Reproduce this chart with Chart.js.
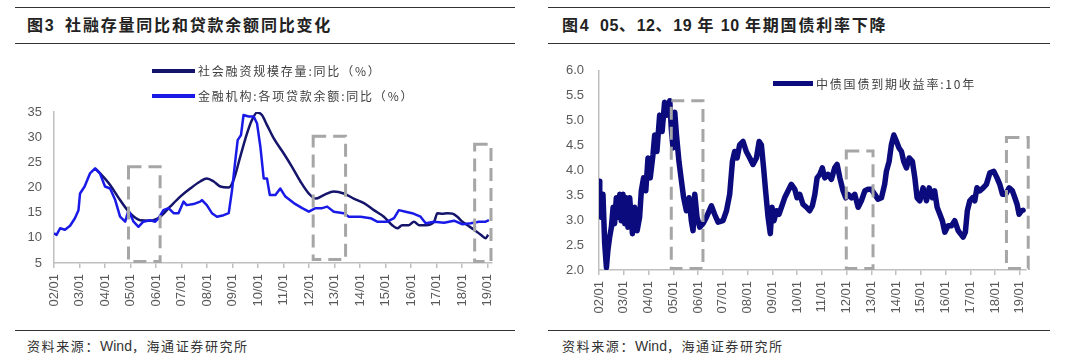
<!DOCTYPE html>
<html>
<head>
    <title>社融存量与国债利率</title>
    <script src="https://cdn.jsdelivr.net/npm/chart.js@4.4.1/dist/chart.umd.min.js"></script>
    <style>
        body {
            margin: 0;
            width: 1080px;
            height: 364px;
            background: #fff;
            position: relative;
            overflow: hidden;
            font-family: "Noto Sans CJK SC", "Liberation Sans", sans-serif;
        }
        .rule { position: absolute; height: 0; border-top: 1.5px solid #333; }
        .title {
            position: absolute; top: 12px; font-size: 16px; font-weight: 700;
            color: #222; letter-spacing: 1.8px; white-space: pre;
        }
        .title b { font-family: "Liberation Sans", Arial, sans-serif; letter-spacing: 0.5px; }
        .source {
            position: absolute; top: 336px; font-size: 13px; color: #333;
            letter-spacing: 1.6px; white-space: pre;
        }
        .source span { font-family: "Liberation Sans", Arial, sans-serif; font-size: 14px; letter-spacing: 0; }
        .box { position: absolute; top: 48px; height: 280px; }
        .legend {
            position: absolute; font-size: 12px; color: #404040; letter-spacing: 1.8px;
            white-space: nowrap; display: flex; align-items: center;
        }
        .legend i { display: inline-block; width: 43px; margin-right: 3px; }
    </style>
</head>
<body>
    <div class="rule" style="left:15px;width:500px;top:7px"></div>
    <div class="title" style="left:27px">图<b>3</b>  社融存量同比和贷款余额同比变化</div>
    <div class="rule" style="left:15px;width:500px;top:43px"></div>

    <div class="rule" style="left:548px;width:502px;top:7px"></div>
    <div class="title" style="left:562px">图<b>4</b>  <b>05</b>、<b>12</b>、<b>19</b> 年 <b>10</b> 年期国债利率下降</div>
    <div class="rule" style="left:548px;width:502px;top:43px"></div>

    <div class="box" style="left:0;width:530px"><canvas id="leftChart"></canvas></div>
    <div class="box" style="left:540px;width:540px"><canvas id="rightChart"></canvas></div>

    <div class="legend" style="left:152px;top:62px"><i style="border-top:4px solid #14146b"></i>社会融资规模存量:同比（%）</div>
    <div class="legend" style="left:152px;top:87px"><i style="border-top:4px solid #1a1ae8"></i>金融机构:各项贷款余额:同比（%）</div>
    <div class="legend" style="left:773px;top:75px"><i style="width:40px;border-top:5px solid #0b0b7e"></i>中债国债到期收益率:10年</div>

    <div class="rule" style="left:15px;width:500px;top:330px"></div>
    <div class="source" style="left:27px">资料来源：<span>Wind</span>，海通证券研究所</div>
    <div class="rule" style="left:548px;width:502px;top:330px"></div>
    <div class="source" style="left:562px">资料来源：<span>Wind</span>，海通证券研究所</div>

    <script>
        // x values are decimal years (2002.0 = 02/01)
        const tickYears = [2002, 2003, 2004, 2005, 2006, 2007, 2008, 2009, 2010, 2011, 2012, 2013, 2014, 2015, 2016, 2017, 2018, 2019];
        const tickLabels = ['02/01', '03/01', '04/01', '05/01', '06/01', '07/01', '08/01', '09/01', '10/01', '11/01', '12/01', '13/01', '14/01', '15/01', '16/01', '17/01', '18/01', '19/01'];

        // 社会融资规模存量:同比
        const tsfX = [2003.61, 2003.81, 2004.2, 2004.59, 2004.98, 2005.38, 2005.77, 2006.16, 2006.55, 2006.95, 2007.34, 2007.73, 2007.99, 2008.26, 2008.52, 2008.85, 2009.04, 2009.3, 2009.57, 2009.76, 2009.96, 2010.15, 2010.35, 2010.61, 2011.0, 2011.33, 2011.66, 2011.99, 2012.25, 2012.58, 2012.97, 2013.36, 2013.75, 2014.15, 2014.54, 2014.93, 2015.26, 2015.46, 2015.65, 2015.91, 2016.11, 2016.31, 2016.57, 2016.9, 2017.03, 2017.22, 2017.42, 2017.62, 2017.81, 2018.01, 2018.21, 2018.47, 2018.73, 2018.92, 2019.02];
        const tsfY = [23.8, 22.8, 20.5, 17.5, 14.9, 13.5, 13.4, 14.2, 16.2, 18.2, 19.8, 21.2, 21.8, 21.2, 20.2, 20.0, 21.5, 26.1, 30.8, 33.4, 34.9, 34.4, 32.4, 29.8, 26.8, 24.1, 21.2, 18.8, 17.8, 18.5, 19.2, 18.8, 17.8, 16.9, 15.5, 14.2, 12.5, 11.9, 12.5, 12.5, 13.2, 12.5, 12.5, 13.2, 14.9, 14.8, 14.9, 14.8, 14.2, 13.2, 12.5, 11.6, 10.6, 9.9, 10.6];

        // 金融机构:各项贷款余额:同比
        const loanX = [2002.0, 2002.1, 2002.24, 2002.43, 2002.63, 2002.82, 2002.96, 2003.02, 2003.2, 2003.41, 2003.61, 2003.8, 2004.0, 2004.2, 2004.4, 2004.59, 2004.79, 2004.92, 2005.12, 2005.31, 2005.5, 2005.77, 2005.97, 2006.1, 2006.29, 2006.49, 2006.69, 2006.88, 2007.08, 2007.2, 2007.47, 2007.73, 2007.8, 2007.99, 2008.19, 2008.39, 2008.65, 2008.85, 2008.98, 2009.11, 2009.2, 2009.33, 2009.43, 2009.63, 2009.83, 2009.96, 2010.09, 2010.22, 2010.35, 2010.46, 2010.68, 2010.87, 2011.07, 2011.4, 2011.73, 2011.99, 2012.25, 2012.51, 2012.71, 2012.97, 2013.36, 2013.56, 2014.02, 2014.41, 2014.67, 2015.06, 2015.33, 2015.52, 2015.78, 2016.04, 2016.37, 2016.57, 2016.9, 2017.29, 2017.68, 2018.01, 2018.34, 2018.66, 2018.92, 2019.05];
        const loanY = [10.9, 10.6, 11.9, 11.6, 12.4, 13.9, 15.5, 18.8, 20.2, 22.8, 23.8, 22.8, 20.2, 19.8, 17.5, 14.2, 13.2, 15.5, 13.2, 12.2, 13.2, 13.5, 13.2, 13.9, 15.5, 15.9, 14.9, 14.9, 17.2, 16.5, 16.7, 17.2, 17.5, 16.5, 14.9, 14.2, 14.5, 14.9, 19.5, 25.5, 29.4, 30.4, 34.4, 34.1, 34.1, 32.7, 28.1, 21.8, 21.8, 18.5, 18.5, 19.8, 18.2, 16.9, 15.9, 15.2, 15.9, 15.9, 16.2, 15.2, 14.9, 14.2, 14.2, 13.9, 13.2, 13.2, 13.9, 15.5, 15.2, 14.9, 14.2, 12.9, 13.2, 13.0, 13.4, 12.7, 12.9, 13.2, 13.2, 13.5];

        // 中债国债到期收益率:10年
        const bondX = [2002.0, 2002.03, 2002.09, 2002.16, 2002.23, 2002.3, 2002.36, 2002.43, 2002.5, 2002.57, 2002.63, 2002.7, 2002.77, 2002.84, 2002.9, 2002.97, 2003.04, 2003.1, 2003.17, 2003.24, 2003.35, 2003.44, 2003.54, 2003.64, 2003.71, 2003.8, 2003.89, 2003.98, 2004.07, 2004.18, 2004.25, 2004.34, 2004.45, 2004.55, 2004.65, 2004.75, 2004.86, 2004.92, 2004.99, 2005.06, 2005.13, 2005.23, 2005.33, 2005.42, 2005.53, 2005.64, 2005.73, 2005.8, 2005.87, 2005.96, 2006.07, 2006.2, 2006.34, 2006.54, 2006.67, 2006.81, 2007.01, 2007.15, 2007.28, 2007.39, 2007.48, 2007.58, 2007.68, 2007.82, 2007.95, 2008.09, 2008.22, 2008.36, 2008.47, 2008.56, 2008.65, 2008.73, 2008.83, 2008.92, 2008.99, 2009.07, 2009.17, 2009.27, 2009.37, 2009.5, 2009.64, 2009.77, 2009.91, 2010.0, 2010.11, 2010.24, 2010.38, 2010.51, 2010.62, 2010.72, 2010.81, 2010.92, 2011.02, 2011.12, 2011.25, 2011.39, 2011.52, 2011.62, 2011.73, 2011.86, 2011.97, 2012.06, 2012.2, 2012.33, 2012.47, 2012.6, 2012.74, 2012.87, 2013.0, 2013.14, 2013.27, 2013.41, 2013.54, 2013.61, 2013.72, 2013.81, 2013.91, 2014.02, 2014.12, 2014.22, 2014.31, 2014.42, 2014.53, 2014.66, 2014.76, 2014.85, 2014.96, 2015.09, 2015.23, 2015.34, 2015.47, 2015.56, 2015.66, 2015.77, 2015.87, 2015.97, 2016.1, 2016.24, 2016.37, 2016.51, 2016.6, 2016.71, 2016.8, 2016.88, 2016.98, 2017.09, 2017.18, 2017.27, 2017.38, 2017.52, 2017.65, 2017.79, 2017.95, 2018.08, 2018.19, 2018.3, 2018.43, 2018.57, 2018.7, 2018.8, 2018.89, 2018.97, 2019.07, 2019.13];
        const bondY = [3.78, 3.25, 3.06, 3.52, 2.53, 2.05, 2.4, 2.66, 2.86, 3.26, 2.93, 3.45, 3.06, 3.52, 2.99, 3.52, 2.93, 3.45, 2.86, 3.45, 2.73, 3.26, 2.79, 3.06, 3.59, 3.85, 3.59, 4.25, 3.85, 4.31, 4.71, 4.38, 5.11, 4.78, 5.37, 5.11, 5.40, 4.84, 4.45, 5.17, 4.71, 4.18, 3.79, 3.45, 3.19, 3.45, 2.99, 2.79, 3.52, 3.06, 2.86, 2.93, 3.06, 3.29, 3.12, 2.96, 2.99, 3.19, 3.52, 4.18, 4.38, 4.25, 4.51, 4.58, 4.38, 4.25, 4.12, 4.25, 4.58, 4.51, 4.05, 3.59, 3.06, 2.73, 3.26, 2.99, 3.19, 3.12, 3.26, 3.45, 3.59, 3.72, 3.62, 3.45, 3.52, 3.32, 3.26, 3.19, 3.29, 3.52, 3.85, 3.92, 4.05, 3.85, 3.92, 3.82, 4.05, 4.12, 3.85, 3.59, 3.45, 3.52, 3.45, 3.52, 3.26, 3.39, 3.59, 3.62, 3.62, 3.52, 3.42, 3.45, 3.72, 3.98, 4.18, 4.51, 4.71, 4.58, 4.45, 4.38, 4.18, 4.05, 4.25, 4.18, 3.85, 3.45, 3.39, 3.65, 3.39, 3.65, 3.45, 3.59, 3.26, 3.12, 2.99, 2.76, 2.89, 2.89, 2.99, 2.79, 2.73, 2.66, 2.76, 3.19, 3.39, 3.45, 3.39, 3.65, 3.59, 3.65, 3.72, 3.95, 3.98, 3.85, 3.72, 3.52, 3.52, 3.65, 3.59, 3.45, 3.32, 3.12, 3.19, 3.2];

        // dashed boxes: 05, 12, 19
        const leftBoxFrom = [2004.92, 2012.16, 2018.49];
        const leftBoxTo = [2006.16, 2013.43, 2019.13];
        const leftBoxTop = [24.1, 30.2, 28.6];
        const leftBoxBottom = [5.3, 5.7, 5.3];
        const rightBoxFrom = [2004.92, 2011.99, 2018.46];
        const rightBoxTo = [2006.2, 2013.07, 2019.34];
        const rightBoxTop = [5.40, 4.39, 4.66];
        const rightBoxBottom = [2.03, 2.03, 2.03];

        const toPoints = (xs, ys) => xs.map((x, i) => ({ x: x, y: ys[i] }));

        const boxPlugin = {
            id: 'boxes',
            afterDatasetsDraw(chart, args, opts) {
                const ctx = chart.ctx;
                const xs = chart.scales.x, ys = chart.scales.y;
                ctx.save();
                ctx.strokeStyle = '#a6a6a6';
                ctx.lineWidth = 3;
                ctx.setLineDash([13, 7]);
                opts.from.forEach((v, i) => {
                    const l = xs.getPixelForValue(v);
                    const r = xs.getPixelForValue(opts.to[i]);
                    const t = ys.getPixelForValue(opts.top[i]);
                    const b = ys.getPixelForValue(opts.bottom[i]);
                    ctx.strokeRect(l, t, r - l, b - t);
                });
                ctx.restore();
            }
        };

        const tickFont = { family: 'Liberation Sans, Arial, sans-serif', size: 13 };

        function makeOptions(cfg) {
            return {
                responsive: false,
                animation: false,
                layout: { padding: cfg.padding },
                plugins: {
                    legend: { display: false },
                    tooltip: { enabled: false },
                    boxes: cfg.boxes
                },
                scales: {
                    x: {
                        type: 'linear',
                        min: 2002,
                        max: cfg.xMax,
                        afterFit: s => { s.height = 50; },
                        afterBuildTicks: s => { s.ticks = tickYears.map(v => ({ value: v })); },
                        border: { color: '#bfbfbf', width: 1.5 },
                        grid: { drawOnChartArea: false, drawTicks: true, tickLength: 5, color: '#bfbfbf', lineWidth: 1.5 },
                        ticks: {
                            autoSkip: false,
                            minRotation: 90,
                            maxRotation: 90,
                            padding: 6,
                            color: '#595959',
                            font: tickFont,
                            callback: v => tickLabels[tickYears.indexOf(v)]
                        }
                    },
                    y: {
                        min: cfg.yMin,
                        max: cfg.yMax,
                        afterFit: s => { s.width = cfg.yWidth; },
                        border: { color: '#bfbfbf', width: 1.5 },
                        grid: { display: false, drawTicks: false },
                        ticks: {
                            stepSize: cfg.yStep,
                            padding: cfg.yPad,
                            color: '#595959',
                            font: tickFont,
                            callback: cfg.yFormat
                        }
                    }
                }
            };
        }

        const leftCanvas = document.getElementById('leftChart');
        leftCanvas.width = 530; leftCanvas.height = 280;
        new Chart(leftCanvas, {
            type: 'line',
            data: {
                datasets: [{
                    label: '金融机构:各项贷款余额:同比（%）',
                    data: toPoints(loanX, loanY),
                    borderColor: '#1a1ae8',
                    borderWidth: 2.5,
                    borderJoinStyle: 'round',
                    pointRadius: 0,
                    tension: 0
                }, {
                    label: '社会融资规模存量:同比（%）',
                    data: toPoints(tsfX, tsfY),
                    borderColor: '#14146b',
                    borderWidth: 2.5,
                    borderJoinStyle: 'round',
                    pointRadius: 0,
                    cubicInterpolationMode: 'monotone'
                }]
            },
            options: makeOptions({
                padding: { left: 0, right: 38, top: 64, bottom: 15 },
                xMax: 2019.17, yMin: 5, yMax: 35, yStep: 5, yWidth: 54, yPad: 12,
                yFormat: v => v,
                boxes: { from: leftBoxFrom, to: leftBoxTo, top: leftBoxTop, bottom: leftBoxBottom }
            }),
            plugins: [boxPlugin]
        });

        const rightCanvas = document.getElementById('rightChart');
        rightCanvas.width = 540; rightCanvas.height = 280;
        new Chart(rightCanvas, {
            type: 'line',
            data: {
                datasets: [{
                    label: '中债国债到期收益率:10年',
                    data: toPoints(bondX, bondY),
                    borderColor: '#0b0b7e',
                    borderWidth: 5.5,
                    borderJoinStyle: 'round',
                    borderCapStyle: 'round',
                    pointRadius: 0,
                    tension: 0
                }]
            },
            options: makeOptions({
                padding: { left: 0, right: 54, top: 20, bottom: 8 },
                xMax: 2019.25, yMin: 2, yMax: 6, yStep: 0.5, yWidth: 59, yPad: 15,
                yFormat: v => v.toFixed(1),
                boxes: { from: rightBoxFrom, to: rightBoxTo, top: rightBoxTop, bottom: rightBoxBottom }
            }),
            plugins: [boxPlugin]
        });
    </script>
</body>
</html>
